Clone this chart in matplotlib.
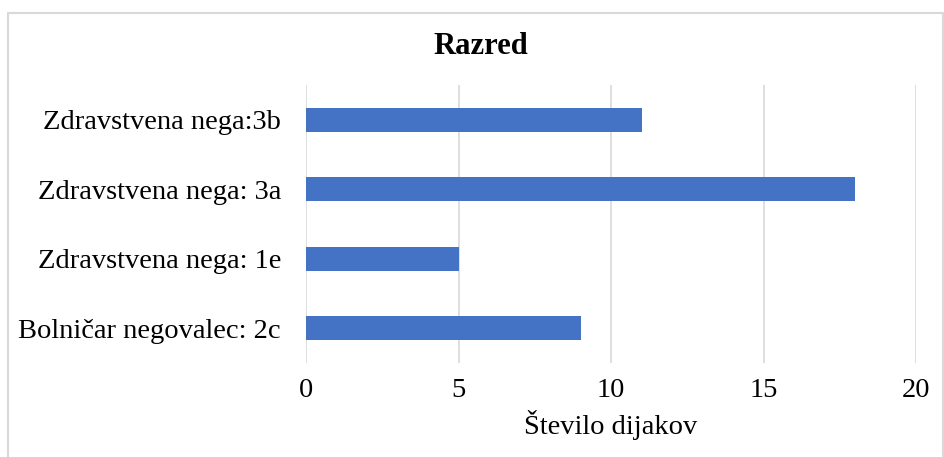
import numpy as np
from matplotlib import pyplot as plt
from matplotlib.patches import Rectangle

# 数据
razredi = ['Bolničar negovalec: 2c', 'Zdravstvena nega: 1e',
           'Zdravstvena nega: 3a', 'Zdravstvena nega:3b']
dijaki = [9, 5, 18, 11]
x_ticks = [0, 5, 10, 15, 20]

plt.rcParams['font.family'] = ['Liberation Serif', 'DejaVu Serif']

fig = plt.figure(figsize=(9.44, 4.57), dpi=100)
ax = fig.add_axes([306 / 944, 1 - 363 / 457, 610 / 944, 278 / 457])

y = np.arange(len(razredi))
ax.barh(y, dijaki, height=0.35, color='#4472C4', zorder=3)

ax.set_xlim(0, 20)
ax.set_ylim(-0.5, len(razredi) - 0.5)
ax.set_xticks(x_ticks)
ax.set_yticks(y)
ax.set_yticklabels(razredi)
ax.tick_params(axis='y', length=0, pad=18, labelsize=20.5)
ax.tick_params(axis='x', length=0, pad=11, labelsize=20.5)
ax.grid(axis='x', color='#D9D9D9', linewidth=1.2, zorder=0)
for s in ax.spines.values():
    s.set_visible(False)

ax.set_xlabel('Število dijakov', fontsize=20.5, labelpad=5)
fig.text(481 / 944, 1 - 47 / 457, 'Razred', fontsize=22, fontweight='bold',
         ha='center', va='center')

# 外框
fig.patches.append(Rectangle((7.5 / 944, -0.1), (943 - 7.5) / 944, 1.1 - 13 / 457,
                             transform=fig.transFigure, fill=False,
                             edgecolor='#D9D9D9', linewidth=1.5))

fig.savefig('out.png', dpi=100)
